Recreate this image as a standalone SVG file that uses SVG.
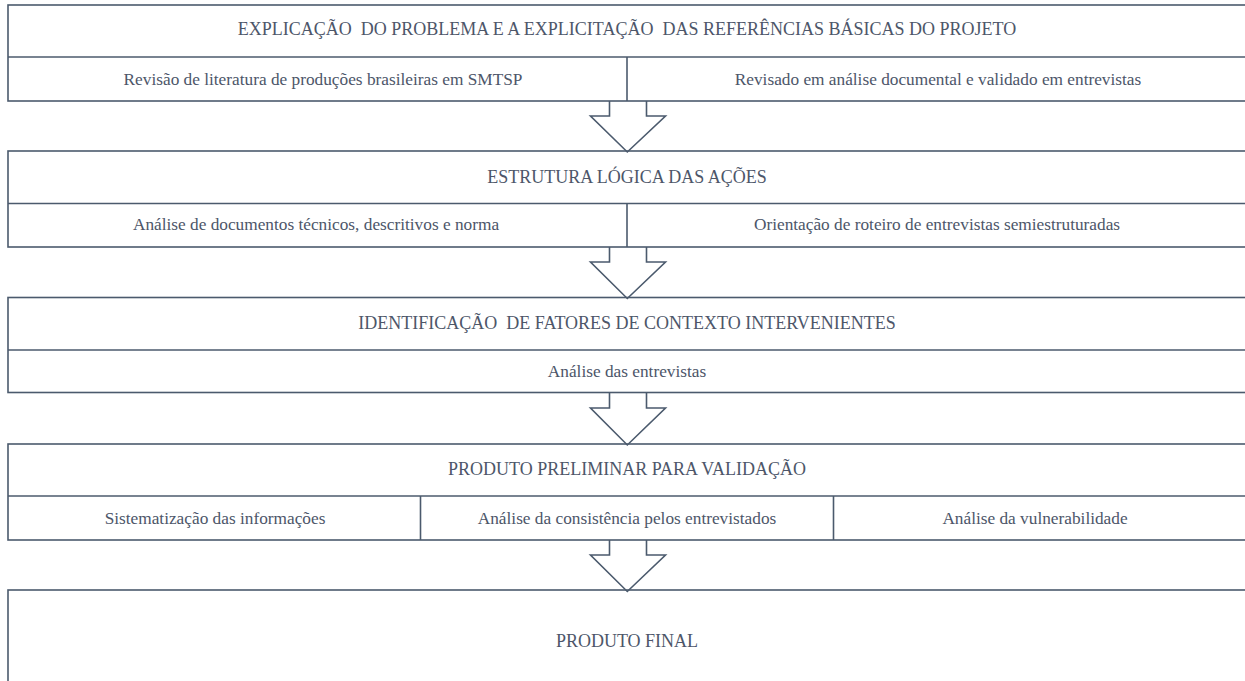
<svg xmlns="http://www.w3.org/2000/svg" width="1245" height="681" viewBox="0 0 1245 681">
<style>
.box{fill:none;stroke:#4b5a6d;stroke-width:1.6}
.ln{stroke:#4b5a6d;stroke-width:1.6;fill:none}
.arr{fill:#ffffff;stroke:#4b5a6d;stroke-width:1.6;stroke-linejoin:miter}
text{font-family:"Liberation Serif","Times New Roman",serif;font-size:17.3px;fill:#4d5669;text-anchor:middle}
text.h{font-size:18px}
</style>
<rect width="1245" height="681" fill="#ffffff"/>
<g id="connectors">
<path class="arr" d="M609.5 101 V116 H590.5 L627.3 152 L665.5 116 H646.5 V101"/>
<path class="arr" d="M609.5 247 V262 H590.5 L627.3 298.5 L665.5 262 H646.5 V247"/>
<path class="arr" d="M609.5 392.5 V408 H590.5 L627.3 445 L665.5 408 H646.5 V392.5"/>
<path class="arr" d="M609.5 540 V555 H590.5 L627.3 591.5 L665.5 555 H646.5 V540"/>
</g>
<g id="n1">
<rect class="box" x="8" y="5" width="1245" height="96"/>
<line class="ln" x1="8" y1="57" x2="1253" y2="57"/>
<line class="ln" x1="627" y1="57" x2="627" y2="101"/>
<text class="h" x="627" y="35" xml:space="preserve">EXPLICAÇÃO  DO PROBLEMA E A EXPLICITAÇÃO  DAS REFERÊNCIAS BÁSICAS DO PROJETO</text>
<text x="323" y="85">Revisão de literatura de produções brasileiras em SMTSP</text>
<text x="938" y="85">Revisado em análise documental e validado em entrevistas</text>
</g>
<g id="n2">
<rect class="box" x="8" y="151" width="1245" height="96"/>
<line class="ln" x1="8" y1="203.5" x2="1253" y2="203.5"/>
<line class="ln" x1="627" y1="203.5" x2="627" y2="247"/>
<text class="h" x="627" y="183">ESTRUTURA LÓGICA DAS AÇÕES</text>
<text x="316" y="230">Análise de documentos técnicos, descritivos e norma</text>
<text x="937" y="230">Orientação de roteiro de entrevistas semiestruturadas</text>
</g>
<g id="n3">
<rect class="box" x="8" y="297.5" width="1245" height="95"/>
<line class="ln" x1="8" y1="350" x2="1253" y2="350"/>
<text class="h" x="627" y="329" xml:space="preserve">IDENTIFICAÇÃO  DE FATORES DE CONTEXTO INTERVENIENTES</text>
<text x="627" y="377">Análise das entrevistas</text>
</g>
<g id="n4">
<rect class="box" x="8" y="444" width="1245" height="96"/>
<line class="ln" x1="8" y1="496" x2="1253" y2="496"/>
<line class="ln" x1="420.5" y1="496" x2="420.5" y2="540"/>
<line class="ln" x1="833.5" y1="496" x2="833.5" y2="540"/>
<text class="h" x="627" y="475">PRODUTO PRELIMINAR PARA VALIDAÇÃO</text>
<text x="215" y="524">Sistematização das informações</text>
<text x="627" y="524">Análise da consistência pelos entrevistados</text>
<text x="1035" y="524">Análise da vulnerabilidade</text>
</g>
<g id="n5">
<rect class="box" x="8" y="590" width="1245" height="120"/>
<text class="h" x="627" y="647">PRODUTO FINAL</text>
</g>
</svg>
